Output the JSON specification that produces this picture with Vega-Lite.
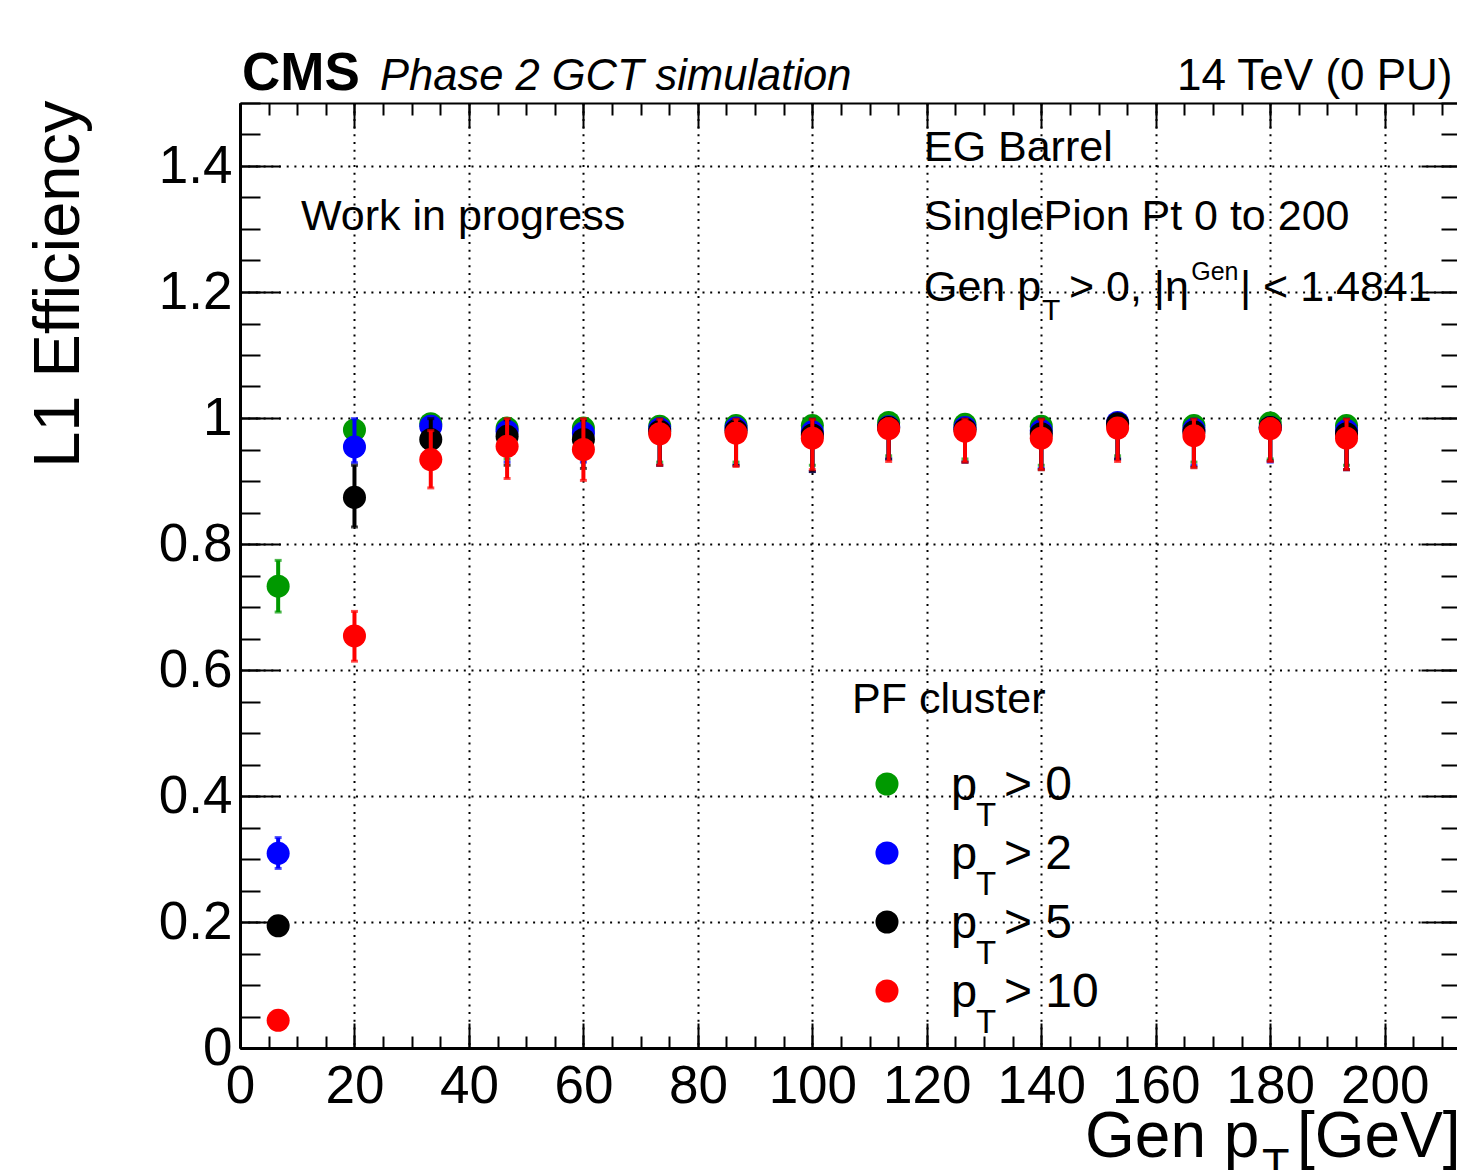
{
  "$schema": "https://vega.github.io/schema/vega-lite/v6.json",
  "width": 1221,
  "height": 945,
  "autosize": {"type": "none"},
  "padding": {"left": 240, "top": 103, "right": 0, "bottom": 122},
  "background": "white",
  "config": {
    "view": {"stroke": null},
    "font": "Liberation Sans",
    "axis": {
      "domainColor": "black", "tickColor": "black", "labelColor": "black", "titleColor": "black",
      "gridColor": "black", "gridDash": [2, 5.7], "gridWidth": 2, "gridOpacity": 1,
      "labelFont": "Liberation Sans", "titleFont": "Liberation Sans",
      "labelFlush": false, "labelOverlap": false, "tickWidth": 2, "domainWidth": 3
    }
  },
  "datasets": {
    "eff": [
      {"s": "pt0", "x": 6.667, "y": 0.733, "lo": 0.692, "hi": 0.774},
      {"s": "pt0", "x": 20, "y": 0.981, "lo": 0.955, "hi": 0.996},
      {"s": "pt0", "x": 33.333, "y": 0.991, "lo": 0.965, "hi": 0.999},
      {"s": "pt0", "x": 46.667, "y": 0.984, "lo": 0.935, "hi": 0.998},
      {"s": "pt0", "x": 60, "y": 0.984, "lo": 0.935, "hi": 0.998},
      {"s": "pt0", "x": 73.333, "y": 0.987, "lo": 0.93, "hi": 0.998},
      {"s": "pt0", "x": 86.667, "y": 0.988, "lo": 0.93, "hi": 0.998},
      {"s": "pt0", "x": 100, "y": 0.988, "lo": 0.925, "hi": 0.999},
      {"s": "pt0", "x": 113.333, "y": 0.993, "lo": 0.94, "hi": 1.0},
      {"s": "pt0", "x": 126.667, "y": 0.99, "lo": 0.935, "hi": 0.999},
      {"s": "pt0", "x": 140, "y": 0.987, "lo": 0.925, "hi": 0.998},
      {"s": "pt0", "x": 153.333, "y": 0.991, "lo": 0.94, "hi": 0.999},
      {"s": "pt0", "x": 166.667, "y": 0.988, "lo": 0.93, "hi": 0.998},
      {"s": "pt0", "x": 180, "y": 0.992, "lo": 0.935, "hi": 0.999},
      {"s": "pt0", "x": 193.333, "y": 0.988, "lo": 0.925, "hi": 0.998},

      {"s": "pt2", "x": 6.667, "y": 0.309, "lo": 0.285, "hi": 0.334},
      {"s": "pt2", "x": 20, "y": 0.954, "lo": 0.929, "hi": 0.999},
      {"s": "pt2", "x": 33.333, "y": 0.987, "lo": 0.96, "hi": 0.998},
      {"s": "pt2", "x": 46.667, "y": 0.979, "lo": 0.93, "hi": 0.997},
      {"s": "pt2", "x": 60, "y": 0.976, "lo": 0.93, "hi": 0.997},
      {"s": "pt2", "x": 73.333, "y": 0.983, "lo": 0.925, "hi": 0.998},
      {"s": "pt2", "x": 86.667, "y": 0.984, "lo": 0.925, "hi": 0.998},
      {"s": "pt2", "x": 100, "y": 0.978, "lo": 0.915, "hi": 0.998},
      {"s": "pt2", "x": 113.333, "y": 0.986, "lo": 0.935, "hi": 0.999},
      {"s": "pt2", "x": 126.667, "y": 0.985, "lo": 0.93, "hi": 0.998},
      {"s": "pt2", "x": 140, "y": 0.98, "lo": 0.92, "hi": 0.998},
      {"s": "pt2", "x": 153.333, "y": 0.993, "lo": 0.935, "hi": 1.0},
      {"s": "pt2", "x": 166.667, "y": 0.982, "lo": 0.925, "hi": 0.998},
      {"s": "pt2", "x": 180, "y": 0.985, "lo": 0.93, "hi": 0.999},
      {"s": "pt2", "x": 193.333, "y": 0.98, "lo": 0.918, "hi": 0.998},

      {"s": "pt5", "x": 6.667, "y": 0.194, "lo": 0.182, "hi": 0.207},
      {"s": "pt5", "x": 20, "y": 0.874, "lo": 0.827, "hi": 0.925},
      {"s": "pt5", "x": 33.333, "y": 0.966, "lo": 0.93, "hi": 0.999},
      {"s": "pt5", "x": 46.667, "y": 0.971, "lo": 0.925, "hi": 0.997},
      {"s": "pt5", "x": 60, "y": 0.966, "lo": 0.92, "hi": 0.997},
      {"s": "pt5", "x": 73.333, "y": 0.979, "lo": 0.925, "hi": 0.998},
      {"s": "pt5", "x": 86.667, "y": 0.98, "lo": 0.925, "hi": 0.998},
      {"s": "pt5", "x": 100, "y": 0.973, "lo": 0.915, "hi": 0.998},
      {"s": "pt5", "x": 113.333, "y": 0.985, "lo": 0.935, "hi": 0.999},
      {"s": "pt5", "x": 126.667, "y": 0.982, "lo": 0.93, "hi": 0.998},
      {"s": "pt5", "x": 140, "y": 0.975, "lo": 0.918, "hi": 0.998},
      {"s": "pt5", "x": 153.333, "y": 0.991, "lo": 0.935, "hi": 1.0},
      {"s": "pt5", "x": 166.667, "y": 0.978, "lo": 0.922, "hi": 0.998},
      {"s": "pt5", "x": 180, "y": 0.985, "lo": 0.932, "hi": 0.999},
      {"s": "pt5", "x": 193.333, "y": 0.975, "lo": 0.918, "hi": 0.998},

      {"s": "pt10", "x": 6.667, "y": 0.044, "lo": 0.037, "hi": 0.053},
      {"s": "pt10", "x": 20, "y": 0.654, "lo": 0.614, "hi": 0.693},
      {"s": "pt10", "x": 33.333, "y": 0.934, "lo": 0.889, "hi": 0.98},
      {"s": "pt10", "x": 46.667, "y": 0.955, "lo": 0.904, "hi": 0.999},
      {"s": "pt10", "x": 60, "y": 0.95, "lo": 0.901, "hi": 0.999},
      {"s": "pt10", "x": 73.333, "y": 0.975, "lo": 0.925, "hi": 0.998},
      {"s": "pt10", "x": 86.667, "y": 0.976, "lo": 0.923, "hi": 0.998},
      {"s": "pt10", "x": 100, "y": 0.968, "lo": 0.918, "hi": 0.998},
      {"s": "pt10", "x": 113.333, "y": 0.983, "lo": 0.931, "hi": 0.999},
      {"s": "pt10", "x": 126.667, "y": 0.979, "lo": 0.93, "hi": 0.998},
      {"s": "pt10", "x": 140, "y": 0.968, "lo": 0.918, "hi": 0.998},
      {"s": "pt10", "x": 153.333, "y": 0.984, "lo": 0.931, "hi": 0.999},
      {"s": "pt10", "x": 166.667, "y": 0.972, "lo": 0.921, "hi": 0.998},
      {"s": "pt10", "x": 180, "y": 0.983, "lo": 0.931, "hi": 0.999},
      {"s": "pt10", "x": 193.333, "y": 0.968, "lo": 0.918, "hi": 0.998}
    ]
  },
  "resolve": {
    "scale": {"x": "independent", "y": "independent"},
    "axis": {"x": "independent", "y": "independent"}
  },
  "layer": [
    {
      "layer": [
        {
          "encoding": {
            "x": {
              "field": "x", "type": "quantitative",
              "scale": {"domain": [0, 213.333], "nice": false, "zero": false},
              "axis": {
                "orient": "bottom", "values": [0, 20, 40, 60, 80, 100, 120, 140, 160, 180, 200],
                "format": "d", "tickSize": -25, "labelFontSize": 53, "labelPadding": 37,
                "grid": true, "title": null
              }
            },
            "color": {
              "field": "s", "type": "nominal",
              "scale": {"domain": ["pt0", "pt2", "pt5", "pt10"], "range": ["#009900", "#0000ff", "#000000", "#ff0000"]},
              "legend": null
            }
          },
          "layer": [
            {
              "data": {"name": "eff"},
              "transform": [{"filter": "datum.s === 'pt0'"}],
              "mark": {"type": "rule", "strokeWidth": 4},
              "encoding": {
                "y": {
                  "field": "lo", "type": "quantitative",
                  "scale": {"domain": [0, 1.5], "nice": false, "zero": false},
                  "axis": {
                    "orient": "left", "values": [0, 0.2, 0.4, 0.6, 0.8, 1, 1.2, 1.4],
                    "format": "~g", "tickSize": -40, "labelPadding": 48, "labelFontSize": 53,
                    "grid": true, "title": "L1 Efficiency", "titleFontSize": 65,
                    "titleFontWeight": "normal", "titleAngle": 270, "titleX": -162, "titleY": -3,
                    "titleAlign": "right", "titleBaseline": "alphabetic"
                  }
                },
                "y2": {"field": "hi"}
              }
            },
            {
              "data": {"name": "eff"},
              "transform": [{"filter": "datum.s === 'pt0'"}],
              "mark": {"type": "tick", "orient": "horizontal", "size": 7, "thickness": 3},
              "encoding": {"y": {"field": "lo", "type": "quantitative"}}
            },
            {
              "data": {"name": "eff"},
              "transform": [{"filter": "datum.s === 'pt0'"}],
              "mark": {"type": "tick", "orient": "horizontal", "size": 7, "thickness": 3},
              "encoding": {"y": {"field": "hi", "type": "quantitative"}}
            },
            {
              "data": {"name": "eff"},
              "transform": [{"filter": "datum.s === 'pt0'"}],
              "mark": {"type": "circle", "size": 530, "opacity": 1},
              "encoding": {"y": {"field": "y", "type": "quantitative"}}
            },
            {
              "data": {"name": "eff"},
              "transform": [{"filter": "datum.s === 'pt2'"}],
              "mark": {"type": "rule", "strokeWidth": 4},
              "encoding": {"y": {"field": "lo", "type": "quantitative"}, "y2": {"field": "hi"}}
            },
            {
              "data": {"name": "eff"},
              "transform": [{"filter": "datum.s === 'pt2'"}],
              "mark": {"type": "tick", "orient": "horizontal", "size": 7, "thickness": 3},
              "encoding": {"y": {"field": "lo", "type": "quantitative"}}
            },
            {
              "data": {"name": "eff"},
              "transform": [{"filter": "datum.s === 'pt2'"}],
              "mark": {"type": "tick", "orient": "horizontal", "size": 7, "thickness": 3},
              "encoding": {"y": {"field": "hi", "type": "quantitative"}}
            },
            {
              "data": {"name": "eff"},
              "transform": [{"filter": "datum.s === 'pt2'"}],
              "mark": {"type": "circle", "size": 530, "opacity": 1},
              "encoding": {"y": {"field": "y", "type": "quantitative"}}
            },
            {
              "data": {"name": "eff"},
              "transform": [{"filter": "datum.s === 'pt5'"}],
              "mark": {"type": "rule", "strokeWidth": 4},
              "encoding": {"y": {"field": "lo", "type": "quantitative"}, "y2": {"field": "hi"}}
            },
            {
              "data": {"name": "eff"},
              "transform": [{"filter": "datum.s === 'pt5'"}],
              "mark": {"type": "tick", "orient": "horizontal", "size": 7, "thickness": 3},
              "encoding": {"y": {"field": "lo", "type": "quantitative"}}
            },
            {
              "data": {"name": "eff"},
              "transform": [{"filter": "datum.s === 'pt5'"}],
              "mark": {"type": "tick", "orient": "horizontal", "size": 7, "thickness": 3},
              "encoding": {"y": {"field": "hi", "type": "quantitative"}}
            },
            {
              "data": {"name": "eff"},
              "transform": [{"filter": "datum.s === 'pt5'"}],
              "mark": {"type": "circle", "size": 530, "opacity": 1},
              "encoding": {"y": {"field": "y", "type": "quantitative"}}
            },
            {
              "data": {"name": "eff"},
              "transform": [{"filter": "datum.s === 'pt10'"}],
              "mark": {"type": "rule", "strokeWidth": 4},
              "encoding": {"y": {"field": "lo", "type": "quantitative"}, "y2": {"field": "hi"}}
            },
            {
              "data": {"name": "eff"},
              "transform": [{"filter": "datum.s === 'pt10'"}],
              "mark": {"type": "tick", "orient": "horizontal", "size": 7, "thickness": 3},
              "encoding": {"y": {"field": "lo", "type": "quantitative"}}
            },
            {
              "data": {"name": "eff"},
              "transform": [{"filter": "datum.s === 'pt10'"}],
              "mark": {"type": "tick", "orient": "horizontal", "size": 7, "thickness": 3},
              "encoding": {"y": {"field": "hi", "type": "quantitative"}}
            },
            {
              "data": {"name": "eff"},
              "transform": [{"filter": "datum.s === 'pt10'"}],
              "mark": {"type": "circle", "size": 530, "opacity": 1},
              "encoding": {"y": {"field": "y", "type": "quantitative"}}
            }
          ]
        },
        {
          "data": {"values": [{}]},
          "mark": {"type": "text", "text": "CMS", "fontWeight": "bold", "fontSize": 53, "align": "left", "baseline": "alphabetic"},
          "encoding": {"x": {"datum": 0.35}, "y": {"datum": 1.5206}, "color": {"value": "black"}}
        },
        {
          "data": {"values": [{}]},
          "mark": {"type": "text", "text": "Phase 2 GCT simulation", "fontStyle": "italic", "fontSize": 43.5, "align": "left", "baseline": "alphabetic"},
          "encoding": {"x": {"datum": 24.46}, "y": {"datum": 1.5206}, "color": {"value": "black"}}
        },
        {
          "data": {"values": [{}]},
          "mark": {"type": "text", "text": "14 TeV (0 PU)", "fontSize": 44, "align": "right", "baseline": "alphabetic"},
          "encoding": {"x": {"datum": 211.85}, "y": {"datum": 1.5206}, "color": {"value": "black"}}
        },
        {
          "data": {"values": [{}]},
          "mark": {"type": "text", "text": "Work in progress", "fontSize": 43, "align": "left", "baseline": "alphabetic"},
          "encoding": {"x": {"datum": 10.66}, "y": {"datum": 1.2984}, "color": {"value": "black"}}
        },
        {
          "data": {"values": [{}]},
          "mark": {"type": "text", "text": "EG Barrel", "fontSize": 43, "align": "left", "baseline": "alphabetic"},
          "encoding": {"x": {"datum": 119.5}, "y": {"datum": 1.4087}, "color": {"value": "black"}}
        },
        {
          "data": {"values": [{}]},
          "mark": {"type": "text", "text": "SinglePion Pt 0 to 200", "fontSize": 43, "align": "left", "baseline": "alphabetic"},
          "encoding": {"x": {"datum": 119.5}, "y": {"datum": 1.2984}, "color": {"value": "black"}}
        },
        {
          "data": {"values": [{}]},
          "mark": {"type": "text", "text": "Gen p", "fontSize": 43, "align": "left", "baseline": "alphabetic"},
          "encoding": {"x": {"datum": 119.5}, "y": {"datum": 1.1857}, "color": {"value": "black"}}
        },
        {
          "data": {"values": [{}]},
          "mark": {"type": "text", "text": "T", "fontSize": 30, "align": "left", "baseline": "alphabetic"},
          "encoding": {"x": {"datum": 140.12}, "y": {"datum": 1.1556}, "color": {"value": "black"}}
        },
        {
          "data": {"values": [{}]},
          "mark": {"type": "text", "text": "> 0, |η", "fontSize": 43, "align": "left", "baseline": "alphabetic"},
          "encoding": {"x": {"datum": 144.83}, "y": {"datum": 1.1857}, "color": {"value": "black"}}
        },
        {
          "data": {"values": [{}]},
          "mark": {"type": "text", "text": "Gen", "fontSize": 25, "align": "left", "baseline": "alphabetic"},
          "encoding": {"x": {"datum": 166.2}, "y": {"datum": 1.219}, "color": {"value": "black"}}
        },
        {
          "data": {"values": [{}]},
          "mark": {"type": "text", "text": "| < 1.4841", "fontSize": 43, "align": "left", "baseline": "alphabetic"},
          "encoding": {"x": {"datum": 174.72}, "y": {"datum": 1.1857}, "color": {"value": "black"}}
        },
        {
          "data": {"values": [{}]},
          "mark": {"type": "text", "text": "PF cluster", "fontSize": 43, "align": "left", "baseline": "alphabetic"},
          "encoding": {"x": {"datum": 106.93}, "y": {"datum": 0.5317}, "color": {"value": "black"}}
        },
        {
          "data": {"values": [{}]},
          "mark": {"type": "circle", "size": 530, "opacity": 1},
          "encoding": {"x": {"datum": 113.04}, "y": {"datum": 0.41905}, "color": {"value": "#009900"}}
        },
        {
          "data": {"values": [{}]},
          "mark": {"type": "circle", "size": 530, "opacity": 1},
          "encoding": {"x": {"datum": 113.04}, "y": {"datum": 0.30952}, "color": {"value": "#0000ff"}}
        },
        {
          "data": {"values": [{}]},
          "mark": {"type": "circle", "size": 530, "opacity": 1},
          "encoding": {"x": {"datum": 113.04}, "y": {"datum": 0.2}, "color": {"value": "#000000"}}
        },
        {
          "data": {"values": [{}]},
          "mark": {"type": "circle", "size": 530, "opacity": 1},
          "encoding": {"x": {"datum": 113.04}, "y": {"datum": 0.09048}, "color": {"value": "#ff0000"}}
        },
        {
          "data": {"values": [{}]},
          "mark": {"type": "text", "text": "p", "fontSize": 47, "align": "left", "baseline": "alphabetic"},
          "encoding": {"x": {"datum": 124.23}, "y": {"datum": 0.39365}, "color": {"value": "black"}}
        },
        {
          "data": {"values": [{}]},
          "mark": {"type": "text", "text": "T", "fontSize": 33, "align": "left", "baseline": "alphabetic"},
          "encoding": {"x": {"datum": 128.6}, "y": {"datum": 0.35238}, "color": {"value": "black"}}
        },
        {
          "data": {"values": [{}]},
          "mark": {"type": "text", "text": "> 0", "fontSize": 48, "align": "left", "baseline": "alphabetic"},
          "encoding": {"x": {"datum": 133.48}, "y": {"datum": 0.39365}, "color": {"value": "black"}}
        },
        {
          "data": {"values": [{}]},
          "mark": {"type": "text", "text": "p", "fontSize": 47, "align": "left", "baseline": "alphabetic"},
          "encoding": {"x": {"datum": 124.23}, "y": {"datum": 0.28413}, "color": {"value": "black"}}
        },
        {
          "data": {"values": [{}]},
          "mark": {"type": "text", "text": "T", "fontSize": 33, "align": "left", "baseline": "alphabetic"},
          "encoding": {"x": {"datum": 128.6}, "y": {"datum": 0.24286}, "color": {"value": "black"}}
        },
        {
          "data": {"values": [{}]},
          "mark": {"type": "text", "text": "> 2", "fontSize": 48, "align": "left", "baseline": "alphabetic"},
          "encoding": {"x": {"datum": 133.48}, "y": {"datum": 0.28413}, "color": {"value": "black"}}
        },
        {
          "data": {"values": [{}]},
          "mark": {"type": "text", "text": "p", "fontSize": 47, "align": "left", "baseline": "alphabetic"},
          "encoding": {"x": {"datum": 124.23}, "y": {"datum": 0.1746}, "color": {"value": "black"}}
        },
        {
          "data": {"values": [{}]},
          "mark": {"type": "text", "text": "T", "fontSize": 33, "align": "left", "baseline": "alphabetic"},
          "encoding": {"x": {"datum": 128.6}, "y": {"datum": 0.13333}, "color": {"value": "black"}}
        },
        {
          "data": {"values": [{}]},
          "mark": {"type": "text", "text": "> 5", "fontSize": 48, "align": "left", "baseline": "alphabetic"},
          "encoding": {"x": {"datum": 133.48}, "y": {"datum": 0.1746}, "color": {"value": "black"}}
        },
        {
          "data": {"values": [{}]},
          "mark": {"type": "text", "text": "p", "fontSize": 47, "align": "left", "baseline": "alphabetic"},
          "encoding": {"x": {"datum": 124.23}, "y": {"datum": 0.06508}, "color": {"value": "black"}}
        },
        {
          "data": {"values": [{}]},
          "mark": {"type": "text", "text": "T", "fontSize": 33, "align": "left", "baseline": "alphabetic"},
          "encoding": {"x": {"datum": 128.6}, "y": {"datum": 0.02381}, "color": {"value": "black"}}
        },
        {
          "data": {"values": [{}]},
          "mark": {"type": "text", "text": "> 10", "fontSize": 48, "align": "left", "baseline": "alphabetic"},
          "encoding": {"x": {"datum": 133.48}, "y": {"datum": 0.06508}, "color": {"value": "black"}}
        },
        {
          "data": {"values": [{}]},
          "mark": {"type": "text", "text": "Gen p", "fontSize": 64, "align": "left", "baseline": "alphabetic"},
          "encoding": {"x": {"datum": 147.64}, "y": {"datum": -0.17302}, "color": {"value": "black"}}
        },
        {
          "data": {"values": [{}]},
          "mark": {"type": "text", "text": "T", "fontSize": 45, "align": "left", "baseline": "alphabetic"},
          "encoding": {"x": {"datum": 178.57}, "y": {"datum": -0.20952}, "color": {"value": "black"}}
        },
        {
          "data": {"values": [{}]},
          "mark": {"type": "text", "text": "[GeV]", "fontSize": 64, "align": "left", "baseline": "alphabetic"},
          "encoding": {"x": {"datum": 184.68}, "y": {"datum": -0.17302}, "color": {"value": "black"}}
        }
      ]
    },
    {
      "data": {"values": [{}]},
      "mark": {"type": "point", "opacity": 0},
      "encoding": {
        "x": {
          "datum": 0, "type": "quantitative",
          "scale": {"domain": [0, 213.333], "nice": false, "zero": false},
          "axis": {
            "orient": "bottom", "labels": false, "domain": false, "grid": false, "title": null, "tickSize": -12,
            "values": [0, 5, 10, 15, 20, 25, 30, 35, 40, 45, 50, 55, 60, 65, 70, 75, 80, 85, 90, 95, 100, 105, 110, 115, 120, 125, 130, 135, 140, 145, 150, 155, 160, 165, 170, 175, 180, 185, 190, 195, 200, 205, 210]
          }
        },
        "y": {
          "datum": 0, "type": "quantitative",
          "scale": {"domain": [0, 1.5], "nice": false, "zero": false},
          "axis": {
            "orient": "left", "labels": false, "domain": false, "grid": false, "title": null, "tickSize": -20,
            "values": [0, 0.05, 0.1, 0.15, 0.2, 0.25, 0.3, 0.35, 0.4, 0.45, 0.5, 0.55, 0.6, 0.65, 0.7, 0.75, 0.8, 0.85, 0.9, 0.95, 1, 1.05, 1.1, 1.15, 1.2, 1.25, 1.3, 1.35, 1.4, 1.45, 1.5]
          }
        }
      }
    },
    {
      "data": {"values": [{}]},
      "mark": {"type": "point", "opacity": 0},
      "encoding": {
        "x": {
          "datum": 0, "type": "quantitative",
          "scale": {"domain": [0, 213.333], "nice": false, "zero": false},
          "axis": {
            "orient": "top", "labels": false, "domain": true, "domainWidth": 2, "grid": false, "title": null, "tickSize": -25,
            "values": [0, 20, 40, 60, 80, 100, 120, 140, 160, 180, 200]
          }
        },
        "y": {
          "datum": 0, "type": "quantitative",
          "scale": {"domain": [0, 1.5], "nice": false, "zero": false},
          "axis": {
            "orient": "right", "labels": false, "domain": true, "domainWidth": 2, "grid": false, "title": null, "tickSize": -40,
            "values": [0, 0.2, 0.4, 0.6, 0.8, 1, 1.2, 1.4]
          }
        }
      }
    },
    {
      "data": {"values": [{}]},
      "mark": {"type": "point", "opacity": 0},
      "encoding": {
        "x": {
          "datum": 0, "type": "quantitative",
          "scale": {"domain": [0, 213.333], "nice": false, "zero": false},
          "axis": {
            "orient": "top", "labels": false, "domain": false, "grid": false, "title": null, "tickSize": -12,
            "values": [0, 5, 10, 15, 20, 25, 30, 35, 40, 45, 50, 55, 60, 65, 70, 75, 80, 85, 90, 95, 100, 105, 110, 115, 120, 125, 130, 135, 140, 145, 150, 155, 160, 165, 170, 175, 180, 185, 190, 195, 200, 205, 210]
          }
        },
        "y": {
          "datum": 0, "type": "quantitative",
          "scale": {"domain": [0, 1.5], "nice": false, "zero": false},
          "axis": {
            "orient": "right", "labels": false, "domain": false, "grid": false, "title": null, "tickSize": -20,
            "values": [0, 0.05, 0.1, 0.15, 0.2, 0.25, 0.3, 0.35, 0.4, 0.45, 0.5, 0.55, 0.6, 0.65, 0.7, 0.75, 0.8, 0.85, 0.9, 0.95, 1, 1.05, 1.1, 1.15, 1.2, 1.25, 1.3, 1.35, 1.4, 1.45, 1.5]
          }
        }
      }
    }
  ]
}
